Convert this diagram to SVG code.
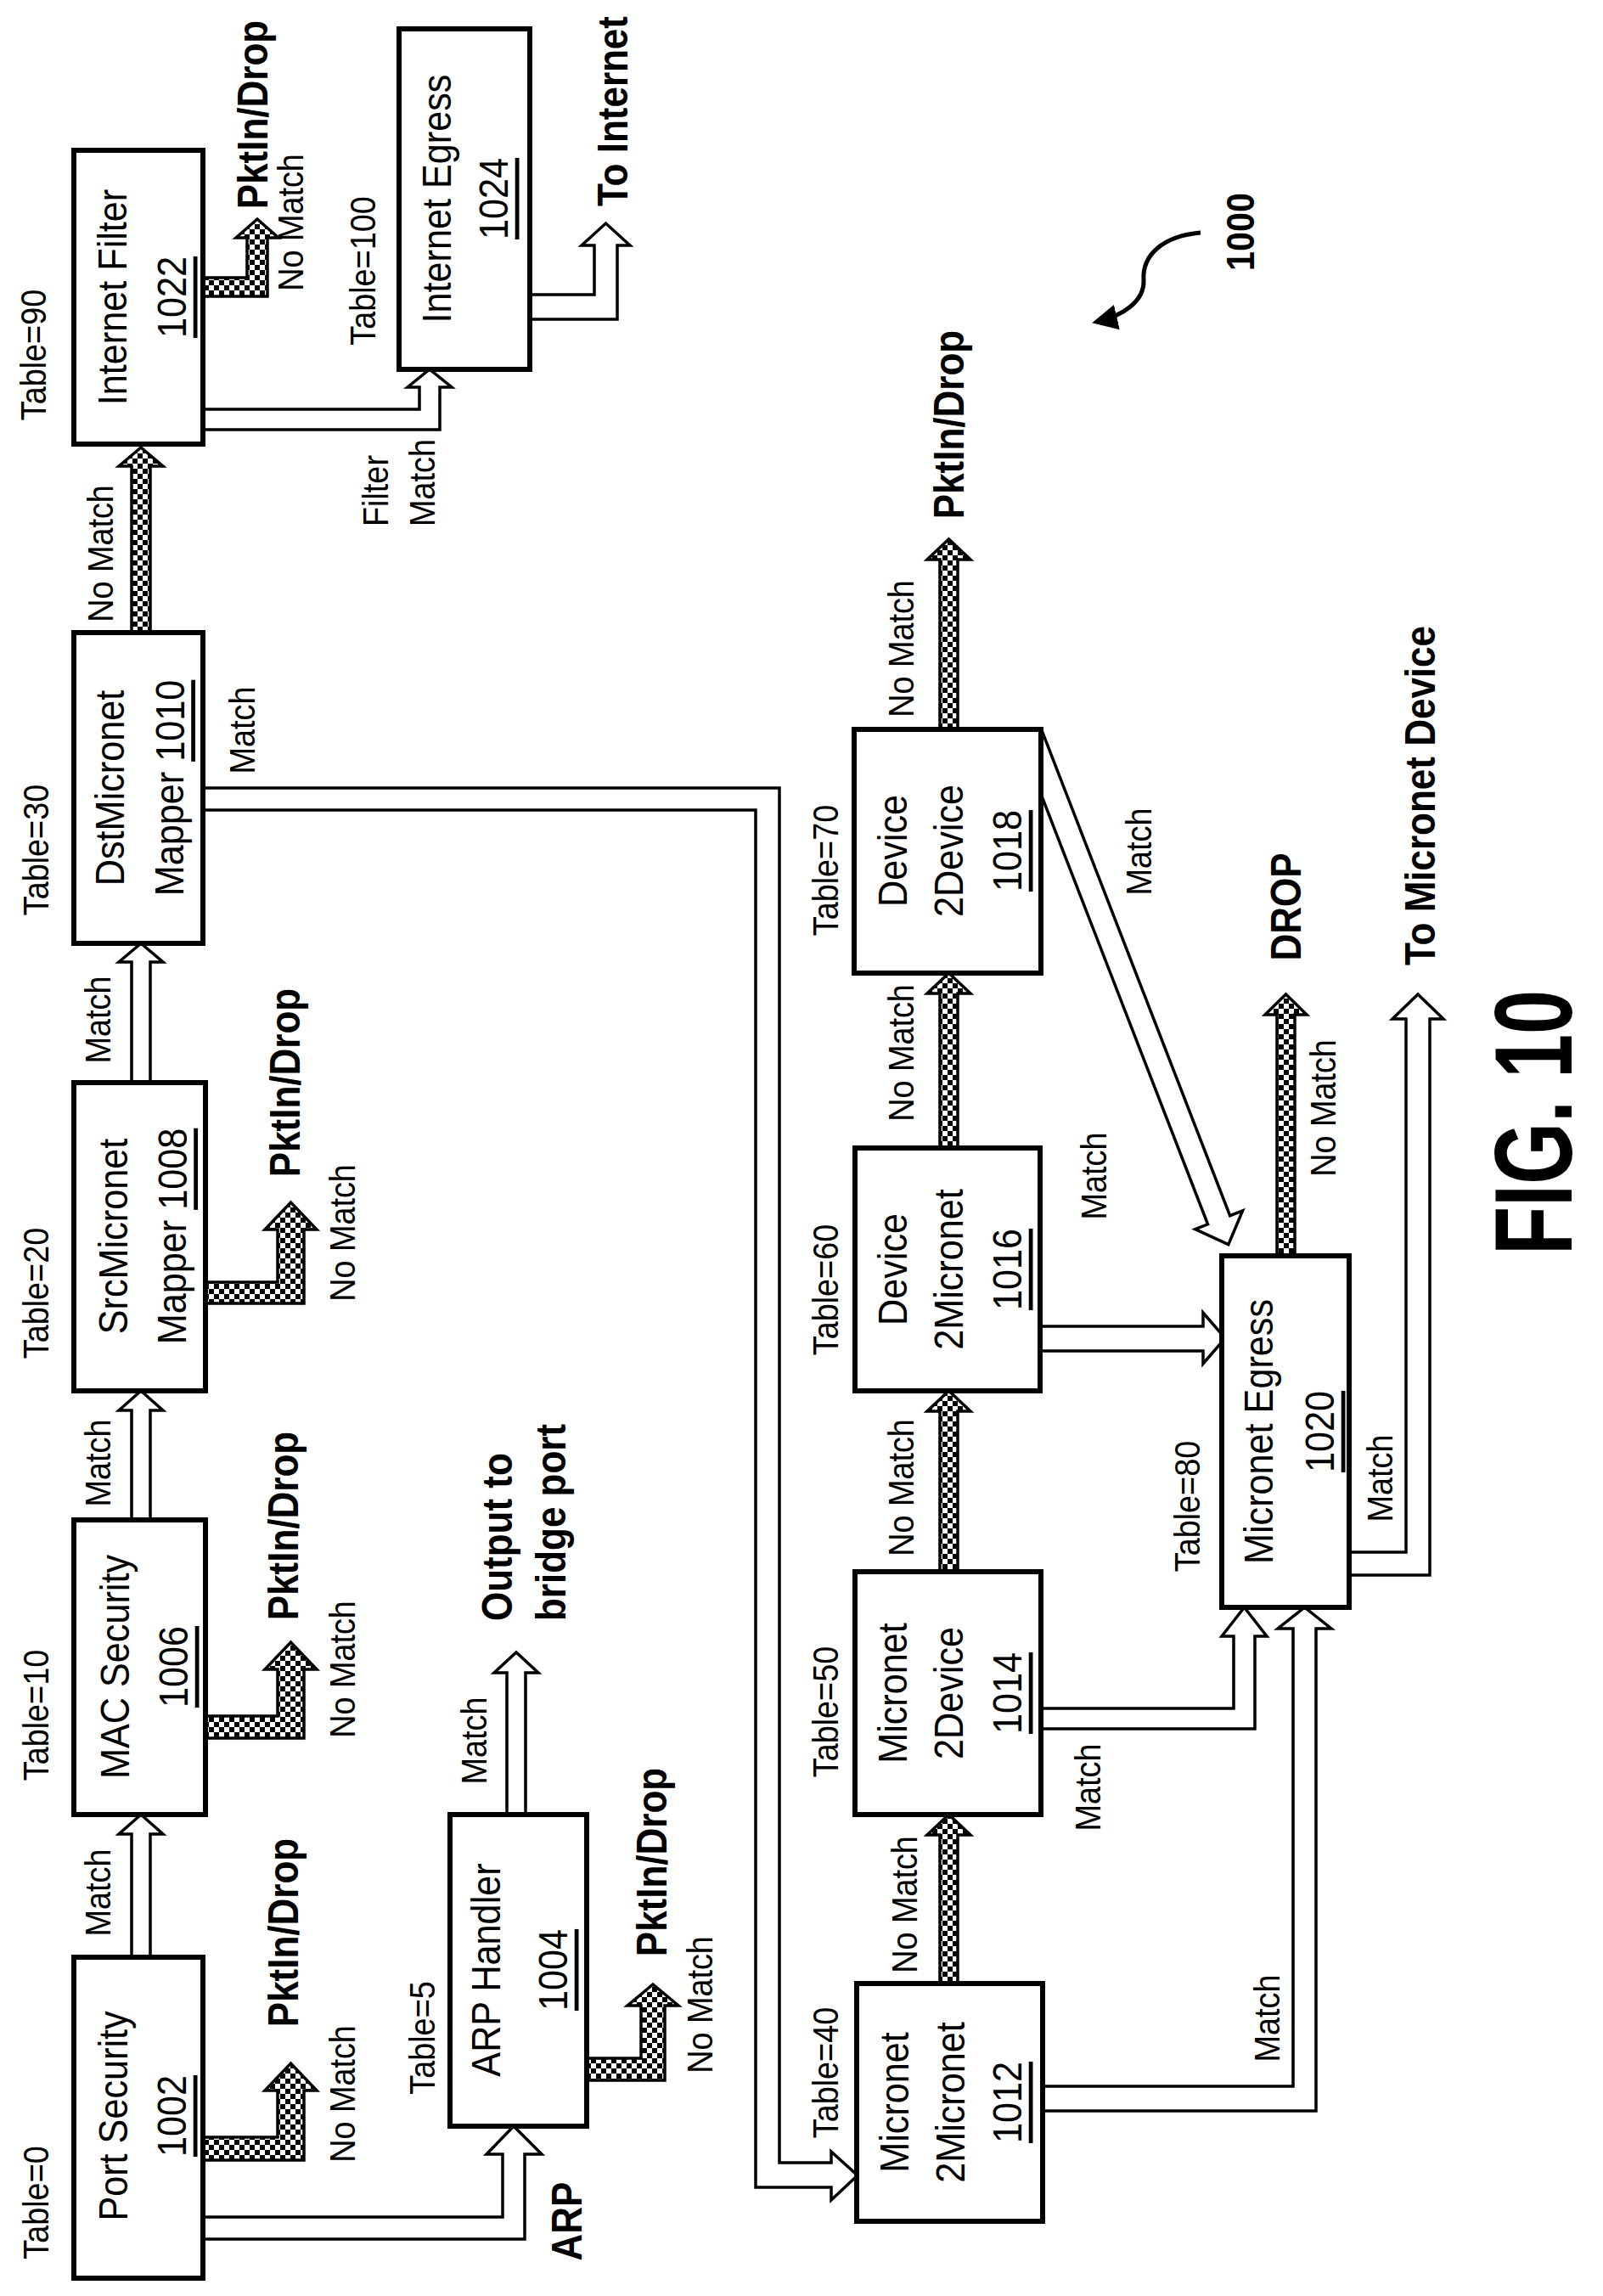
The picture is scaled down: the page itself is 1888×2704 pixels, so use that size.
<svg xmlns="http://www.w3.org/2000/svg" width="1888" height="2704" viewBox="0 0 1888 2704">
<defs>
<pattern id="chk" width="12" height="12" patternUnits="userSpaceOnUse"><rect width="12" height="12" fill="#fff"/><rect width="6" height="6" fill="#000"/><rect x="6" y="6" width="6" height="6" fill="#000"/></pattern>
<marker id="ah" viewBox="0 0 10 10" refX="8" refY="5" markerWidth="6" markerHeight="6" orient="auto"><path d="M0,0 L10,5 L0,10 z" fill="#000"/></marker>
</defs>
<style>
.box{fill:#fff;stroke:#000;stroke-width:6}
.h{fill:#fff;stroke:#000;stroke-width:3.5}
.c{fill:url(#chk);stroke:#000;stroke-width:3.5}
text{font-family:"Liberation Sans",Arial,sans-serif;text-anchor:middle;dominant-baseline:central;fill:#000}
.bt{font-size:48px}
.t{font-size:42px}
.b{font-size:50px;font-weight:bold}
.u{text-decoration:underline}
</style>
<rect width="1888" height="2704" fill="#fff"/>
<g id="connectors">
<polygon class="h" points="155,2310 155,2160 140,2160 166,2137 192,2160 177,2160 177,2310"/>
<polygon class="h" points="155,1795 155,1661 140,1661 166,1638 192,1661 177,1661 177,1795"/>
<polygon class="h" points="155,1280 155,1133 140,1133 166,1111 192,1133 177,1133 177,1280"/>
<polygon class="c" points="155,750 155,549 140,549 166,527 192,549 177,549 177,750"/>
<polygon class="c" points="235,2517 327,2517 327,2462 312,2462 342.5,2430 373,2462 358,2462 358,2544 235,2544"/>
<polygon class="c" points="235,2021 327,2021 327,1966 312,1966 342.5,1934 373,1966 358,1966 358,2047 235,2047"/>
<polygon class="c" points="235,1510 327,1510 327,1448 312,1448 342.5,1416 373,1448 358,1448 358,1535 235,1535"/>
<polygon class="c" points="687,2424 755,2424 755,2362 739,2362 769,2337 799,2362 783,2362 783,2450 687,2450"/>
<polygon class="c" points="235,327 291,327 291,280 278,280 303,258 328,280 315,280 315,349 235,349"/>
<polygon class="h" points="235,2611 592,2611 592,2537 573,2537 605,2504 638,2537 618,2537 618,2637 235,2637"/>
<polygon class="h" points="597,2140 597,1970 582,1970 608,1946 634,1970 619,1970 619,2140"/>
<polygon class="h" points="235,482 494,482 494,456 480,456 506,435 532,456 518,456 518,506 235,506"/>
<polygon class="h" points="620,347 700,347 700,289 685,289 713.5,263 742,289 727,289 727,376 620,376"/>
<polygon class="h" points="235,928 918,928 918,2547 979,2547 979,2534 1010,2562 979,2591 979,2576 890,2576 890,954 235,954"/>
<polygon class="c" points="1107,2340 1107,2161 1092,2161 1117.5,2137 1143,2161 1128,2161 1128,2340"/>
<polygon class="c" points="1107,1855 1107,1662 1092,1662 1117.5,1638 1143,1662 1128,1662 1128,1855"/>
<polygon class="c" points="1107,1356 1107,1170 1092,1170 1117.5,1146 1143,1170 1128,1170 1128,1356"/>
<polygon class="c" points="1107,863 1107,659 1092,659 1117.5,635 1143,659 1128,659 1128,863"/>
<polygon class="h" points="1221,1562 1417,1562 1417,1546 1443,1576 1417,1606 1417,1591 1221,1591"/>
<polygon class="h" points="1222,2012 1453,2012 1453,1927 1439,1927 1465.5,1893 1492,1927 1478,1927 1478,2036 1222,2036"/>
<polygon class="h" points="1224,2457 1523,2457 1523,1918 1505,1918 1536.5,1893 1568,1918 1550,1918 1550,2486 1224,2486"/>
<polygon class="h" points="1585,1828 1656,1828 1656,1200 1640,1200 1670,1171 1700,1200 1684,1200 1684,1855 1585,1855"/>
<polygon class="c" points="1504,1483 1504,1195 1490,1195 1514.5,1171 1539,1195 1525,1195 1525,1483"/>
<polygon class="h" transform="translate(1215,868) rotate(68.8)" points="0,-14 610,-14 610,-30 641,0 610,30 610,14 0,14"/>
<path d="M1414,274 C1370,278 1345,300 1347,330 C1348,355 1322,372 1292,379" fill="none" stroke="#000" stroke-width="5" marker-end="url(#ah)"/>
</g>
<g id="n1002"><rect class="box" x="87" y="2305" width="152" height="378"/>
<text class="bt" transform="translate(134,2492) rotate(-90) scale(0.9,1)">Port  Security</text>
<text class="bt u" transform="translate(203,2492) rotate(-90) scale(0.9,1)">1002</text></g>
<g id="n1006"><rect class="box" x="87" y="1790" width="155" height="347"/>
<text class="bt" transform="translate(136,1963) rotate(-90) scale(0.9,1)">MAC Security</text>
<text class="bt u" transform="translate(205,1963) rotate(-90) scale(0.9,1)">1006</text></g>
<g id="n1008"><rect class="box" x="87" y="1275" width="155" height="363"/>
<text class="bt" transform="translate(134,1456) rotate(-90) scale(0.9,1)">SrcMicronet</text>
<text class="bt" transform="translate(203,1456) rotate(-90) scale(0.9,1)">Mapper <tspan class="u">1008</tspan></text></g>
<g id="n1010"><rect class="box" x="87" y="745" width="152" height="366"/>
<text class="bt" transform="translate(130,928) rotate(-90) scale(0.9,1)">DstMicronet</text>
<text class="bt" transform="translate(200,928) rotate(-90) scale(0.9,1)">Mapper <tspan class="u">1010</tspan></text></g>
<g id="n1022"><rect class="box" x="87" y="177" width="152" height="346"/>
<text class="bt" transform="translate(133,350) rotate(-90) scale(0.9,1)">Internet Filter</text>
<text class="bt u" transform="translate(203,350) rotate(-90) scale(0.9,1)">1022</text></g>
<g id="n1024"><rect class="box" x="470" y="34" width="154" height="401"/>
<text class="bt" transform="translate(515,234) rotate(-90) scale(0.9,1)">Internet Egress</text>
<text class="bt u" transform="translate(582,234) rotate(-90) scale(0.9,1)">1024</text></g>
<g id="n1004"><rect class="box" x="530" y="2137" width="161" height="367"/>
<text class="bt" transform="translate(573,2320) rotate(-90) scale(0.9,1)">ARP Handler</text>
<text class="bt u" transform="translate(652,2320) rotate(-90) scale(0.9,1)">1004</text></g>
<g id="n1012"><rect class="box" x="1009" y="2336" width="219" height="280"/>
<text class="bt" transform="translate(1054,2476) rotate(-90) scale(0.9,1)">Micronet</text>
<text class="bt" transform="translate(1120,2476) rotate(-90) scale(0.9,1)">2Micronet</text>
<text class="bt u" transform="translate(1187,2476) rotate(-90) scale(0.9,1)">1012</text></g>
<g id="n1014"><rect class="box" x="1007" y="1851" width="219" height="286"/>
<text class="bt" transform="translate(1052,1994) rotate(-90) scale(0.9,1)">Micronet</text>
<text class="bt" transform="translate(1118,1994) rotate(-90) scale(0.9,1)">2Device</text>
<text class="bt u" transform="translate(1187,1994) rotate(-90) scale(0.9,1)">1014</text></g>
<g id="n1016"><rect class="box" x="1007" y="1352" width="218" height="286"/>
<text class="bt" transform="translate(1052,1495) rotate(-90) scale(0.9,1)">Device</text>
<text class="bt" transform="translate(1118,1495) rotate(-90) scale(0.9,1)">2Micronet</text>
<text class="bt u" transform="translate(1187,1495) rotate(-90) scale(0.9,1)">1016</text></g>
<g id="n1018"><rect class="box" x="1006" y="859" width="220" height="287"/>
<text class="bt" transform="translate(1052,1002) rotate(-90) scale(0.9,1)">Device</text>
<text class="bt" transform="translate(1118,1002) rotate(-90) scale(0.9,1)">2Device</text>
<text class="bt u" transform="translate(1187,1002) rotate(-90) scale(0.9,1)">1018</text></g>
<g id="n1020"><rect class="box" x="1439" y="1479" width="150" height="414"/>
<text class="bt" transform="translate(1483,1686) rotate(-90) scale(0.9,1)">Micronet Egress</text>
<text class="bt u" transform="translate(1555,1686) rotate(-90) scale(0.9,1)">1020</text></g>
<g id="labels">
<text class="t" transform="translate(42,2594) rotate(-90) scale(0.9,1)">Table=0</text>
<text class="t" transform="translate(42,2020) rotate(-90) scale(0.9,1)">Table=10</text>
<text class="t" transform="translate(42,1523) rotate(-90) scale(0.9,1)">Table=20</text>
<text class="t" transform="translate(42,1001) rotate(-90) scale(0.9,1)">Table=30</text>
<text class="t" transform="translate(39,418) rotate(-90) scale(0.9,1)">Table=90</text>
<text class="t" transform="translate(427,319) rotate(-90) scale(0.9,1)">Table=100</text>
<text class="t" transform="translate(497,2400) rotate(-90) scale(0.9,1)">Table=5</text>
<text class="t" transform="translate(972,2441) rotate(-90) scale(0.9,1)">Table=40</text>
<text class="t" transform="translate(972,2016) rotate(-90) scale(0.9,1)">Table=50</text>
<text class="t" transform="translate(972,1519) rotate(-90) scale(0.9,1)">Table=60</text>
<text class="t" transform="translate(972,1025) rotate(-90) scale(0.9,1)">Table=70</text>
<text class="t" transform="translate(1398,1774) rotate(-90) scale(0.9,1)">Table=80</text>
<text class="t" transform="translate(115,2229) rotate(-90) scale(0.9,1)">Match</text>
<text class="t" transform="translate(115,1723) rotate(-90) scale(0.9,1)">Match</text>
<text class="t" transform="translate(115,1201) rotate(-90) scale(0.9,1)">Match</text>
<text class="t" transform="translate(285,860) rotate(-90) scale(0.9,1)">Match</text>
<text class="t" transform="translate(558,2050) rotate(-90) scale(0.9,1)">Match</text>
<text class="t" transform="translate(1341,1003) rotate(-90) scale(0.9,1)">Match</text>
<text class="t" transform="translate(1288,1385) rotate(-90) scale(0.9,1)">Match</text>
<text class="t" transform="translate(1281,2105) rotate(-90) scale(0.9,1)">Match</text>
<text class="t" transform="translate(1492,2377) rotate(-90) scale(0.9,1)">Match</text>
<text class="t" transform="translate(1625,1741) rotate(-90) scale(0.9,1)">Match</text>
<text class="t" transform="translate(403,2466) rotate(-90) scale(0.9,1)">No Match</text>
<text class="t" transform="translate(403,1966) rotate(-90) scale(0.9,1)">No Match</text>
<text class="t" transform="translate(403,1452) rotate(-90) scale(0.9,1)">No Match</text>
<text class="t" transform="translate(118,652) rotate(-90) scale(0.9,1)">No Match</text>
<text class="t" transform="translate(342,262) rotate(-90) scale(0.9,1)">No Match</text>
<text class="t" transform="translate(824,2361) rotate(-90) scale(0.9,1)">No Match</text>
<text class="t" transform="translate(1061,764) rotate(-90) scale(0.9,1)">No Match</text>
<text class="t" transform="translate(1061,1240) rotate(-90) scale(0.9,1)">No Match</text>
<text class="t" transform="translate(1061,1752) rotate(-90) scale(0.9,1)">No Match</text>
<text class="t" transform="translate(1065,2243) rotate(-90) scale(0.9,1)">No Match</text>
<text class="t" transform="translate(1558,1305) rotate(-90) scale(0.9,1)">No Match</text>
<text class="t" style="text-anchor:start" transform="translate(442,620) rotate(-90) scale(0.9,1)">Filter</text>
<text class="t" style="text-anchor:start" transform="translate(497,620) rotate(-90) scale(0.9,1)">Match</text>
<text class="b" transform="translate(333,2276) rotate(-90) scale(0.88,1)">PktIn/Drop</text>
<text class="b" transform="translate(333,1797) rotate(-90) scale(0.88,1)">PktIn/Drop</text>
<text class="b" transform="translate(335,1275) rotate(-90) scale(0.88,1)">PktIn/Drop</text>
<text class="b" transform="translate(297,135) rotate(-90) scale(0.88,1)">PktIn/Drop</text>
<text class="b" transform="translate(767,2193) rotate(-90) scale(0.88,1)">PktIn/Drop</text>
<text class="b" transform="translate(1117,500) rotate(-90) scale(0.88,1)">PktIn/Drop</text>
<text class="b" transform="translate(667,2616) rotate(-90) scale(0.88,1)">ARP</text>
<text class="b" style="text-anchor:start" transform="translate(585,1909) rotate(-90) scale(0.88,1)">Output to</text>
<text class="b" style="text-anchor:start" transform="translate(648,1909) rotate(-90) scale(0.88,1)">bridge port</text>
<text class="b" transform="translate(721,131) rotate(-90) scale(0.88,1)">To Internet</text>
<text class="b" transform="translate(1514,1068) rotate(-90) scale(0.88,1)">DROP</text>
<text class="b" transform="translate(1672,937) rotate(-90) scale(0.88,1)">To Micronet Device</text>
<text class="b" style="font-size:46px" transform="translate(1461,273) rotate(-90) scale(0.9,1)">1000</text>
<text class="b" style="font-size:130px" transform="translate(1806,1322) rotate(-90) scale(0.72,1)">FIG. 10</text>
</g>
</svg>
